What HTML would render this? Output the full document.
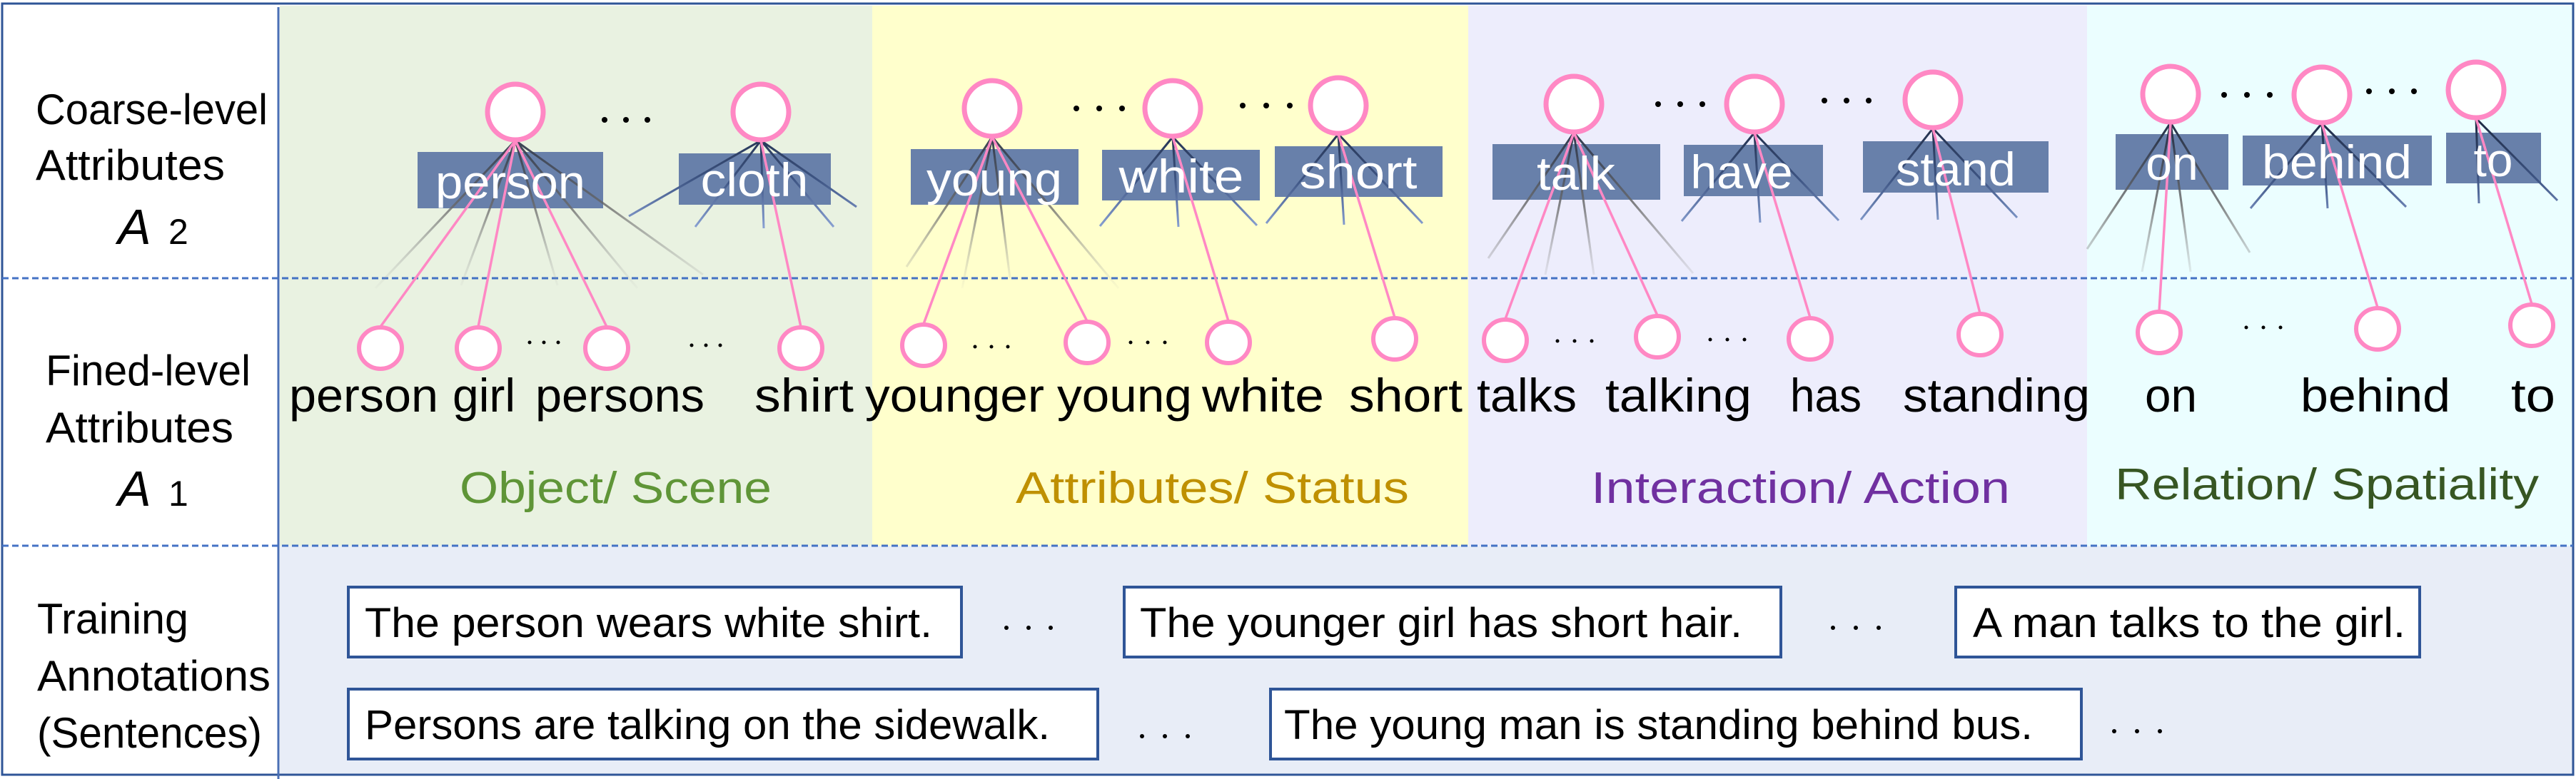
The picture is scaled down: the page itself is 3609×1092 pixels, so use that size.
<!DOCTYPE html>
<html><head><meta charset="utf-8"><style>
html,body{margin:0;padding:0;background:#fff;}
svg{display:block;}
text{font-family:"Liberation Sans",sans-serif;}
</style></head><body>
<svg width="3609" height="1092" viewBox="0 0 3609 1092" xmlns="http://www.w3.org/2000/svg">
<defs>
<linearGradient id="gf" gradientUnits="userSpaceOnUse" x1="0" y1="170" x2="0" y2="405">
<stop offset="0" stop-color="#1e2a44"/><stop offset="0.5" stop-color="#666" stop-opacity="0.8"/><stop offset="1" stop-color="#aaa" stop-opacity="0.05"/></linearGradient>
<linearGradient id="bf" gradientUnits="userSpaceOnUse" x1="0" y1="170" x2="0" y2="320">
<stop offset="0" stop-color="#1e2a44"/><stop offset="0.55" stop-color="#3e5584"/><stop offset="1" stop-color="#8aa2d4"/></linearGradient>
</defs>
<rect x="0" y="0" width="3609" height="1092" fill="#fff"/>
<rect x="392" y="8" width="830" height="757" fill="#e9f2e1"/>
<rect x="1222" y="8" width="835" height="757" fill="#ffffcc"/>
<rect x="2057" y="8" width="867" height="757" fill="#ededfc"/>
<rect x="2924" y="8" width="681" height="757" fill="#ebfeff"/>
<rect x="392" y="765" width="3213" height="320" fill="#e8edf7"/>
<rect x="3" y="5" width="3602" height="1081" fill="none" stroke="#2f5597" stroke-width="3"/>
<line x1="390" y1="10" x2="390" y2="1092" stroke="#4a6fb5" stroke-width="3"/>
<line x1="3" y1="390" x2="3605" y2="390" stroke="#4472c4" stroke-width="3" stroke-dasharray="9,5"/>
<line x1="3" y1="765" x2="3605" y2="765" stroke="#4472c4" stroke-width="3" stroke-dasharray="9,5"/>

<g font-size="60" fill="#000">
<text x="50" y="174" textLength="325" lengthAdjust="spacingAndGlyphs">Coarse-level</text>
<text x="50" y="252" textLength="265" lengthAdjust="spacingAndGlyphs">Attributes</text>
<text x="64" y="540" textLength="287" lengthAdjust="spacingAndGlyphs">Fined-level</text>
<text x="64" y="620" textLength="263" lengthAdjust="spacingAndGlyphs">Attributes</text>
<text x="52" y="888" textLength="212" lengthAdjust="spacingAndGlyphs">Training</text>
<text x="52" y="968" textLength="327" lengthAdjust="spacingAndGlyphs">Annotations</text>
<text x="52" y="1048" textLength="315" lengthAdjust="spacingAndGlyphs">(Sentences)</text>
</g>
<text x="165" y="342" font-family="Liberation Serif" font-style="italic" font-size="70">A</text>
<text x="236" y="342" font-size="50">2</text>
<text x="165" y="709" font-family="Liberation Serif" font-style="italic" font-size="70">A</text>
<text x="236" y="709" font-size="50">1</text>

<g fill="#6880aa">
<rect x="585" y="213" width="260" height="79"/>
<rect x="951" y="215" width="213" height="72"/>
<rect x="1276" y="209" width="235" height="78"/>
<rect x="1544" y="210" width="221" height="71"/>
<rect x="1786" y="205" width="235" height="71"/>
<rect x="2091" y="202" width="235" height="78"/>
<rect x="2359" y="203" width="195" height="72"/>
<rect x="2610" y="198" width="260" height="72"/>
<rect x="2964" y="188" width="158" height="78"/>
<rect x="3142" y="190" width="265" height="70"/>
<rect x="3427" y="186" width="133" height="71"/>
</g>

<g stroke="url(#gf)" stroke-width="3" fill="none">
<path d="M722 197L526 404M722 197L646 400M722 197L781 400M722 197L893 404M722 197L985 385"/>
<path d="M1390 192L1270 374M1390 192L1348 404M1390 192L1415 390M1390 192L1567 404"/>
<path d="M2205 186L2085 362M2205 186L2165 385M2205 186L2233 385M2205 186L2372 383"/>
<path d="M3041 172L2924 349M3041 172L3001 381M3041 172L3069 381M3041 172L3152 354"/>
</g>
<g stroke="url(#bf)" stroke-width="3" fill="none">
<path d="M1066 197L881 303M1066 197L974 318M1066 197L1070 320M1066 197L1168 318M1066 197L1200 290"/>
<path d="M1643 192L1541 317M1643 192L1651 318M1643 192L1761 316"/>
<path d="M1875 188L1774 313M1875 188L1883 315M1875 188L1993 313"/>
<path d="M2458 186L2356 310M2458 186L2466 312M2458 186L2576 309"/>
<path d="M2708 180L2607 308M2708 180L2715 308M2708 180L2826 305"/>
<path d="M3253 173L3153 292M3253 173L3261 292M3253 173L3371 290"/>
<path d="M3469 166L3473 285M3469 166L3583 281"/>
</g>
<g stroke="#ff88c4" stroke-width="3.5" fill="none">
<path d="M722 197L533 458M722 197L670 458M722 197L850 458M1066 197L1122 458"/>
<path d="M1390 192L1294 454M1390 192L1523 450M1643 192L1721 450M1875 188L1954 445"/>
<path d="M2205 186L2109 447M2205 186L2322 442M2458 186L2536 445M2708 180L2774 439"/>
<path d="M3041 172L3025 436M3253 173L3331 431M3469 166L3547 426"/>
</g>

<g font-size="66" fill="#fff" text-anchor="middle">
<text x="715" y="278" textLength="210" lengthAdjust="spacingAndGlyphs">person</text>
<text x="1057" y="275" textLength="151" lengthAdjust="spacingAndGlyphs">cloth</text>
<text x="1393" y="274" textLength="190" lengthAdjust="spacingAndGlyphs">young</text>
<text x="1655" y="270" textLength="175" lengthAdjust="spacingAndGlyphs">white</text>
<text x="1903" y="264" textLength="165" lengthAdjust="spacingAndGlyphs">short</text>
<text x="2208" y="266" textLength="110" lengthAdjust="spacingAndGlyphs">talk</text>
<text x="2440" y="264">have</text>
<text x="2740" y="260" textLength="168" lengthAdjust="spacingAndGlyphs">stand</text>
<text x="3043" y="252">on</text>
<text x="3274" y="250" textLength="210" lengthAdjust="spacingAndGlyphs">behind</text>
<text x="3493" y="247">to</text>
</g>

<g fill="#fff" stroke="#ff88c4" stroke-width="7">
<ellipse cx="722" cy="157" rx="39" ry="39"/>
<ellipse cx="1066" cy="157" rx="39" ry="39"/>
<ellipse cx="1390" cy="152" rx="39" ry="39"/>
<ellipse cx="1643" cy="152" rx="39" ry="39"/>
<ellipse cx="1875" cy="148" rx="39" ry="39"/>
<ellipse cx="2205" cy="146" rx="39" ry="39"/>
<ellipse cx="2458" cy="146" rx="39" ry="39"/>
<ellipse cx="2708" cy="140" rx="39" ry="39"/>
<ellipse cx="3041" cy="132" rx="39" ry="39"/>
<ellipse cx="3253" cy="133" rx="39" ry="39"/>
<ellipse cx="3469" cy="126" rx="39" ry="39"/>
</g>
<g fill="#fff" stroke="#ff88c4" stroke-width="6">
<ellipse cx="533" cy="488" rx="30" ry="29"/>
<ellipse cx="670" cy="488" rx="30" ry="29"/>
<ellipse cx="850" cy="488" rx="30" ry="29"/>
<ellipse cx="1122" cy="488" rx="30" ry="29"/>
<ellipse cx="1294" cy="484" rx="30" ry="29"/>
<ellipse cx="1523" cy="480" rx="30" ry="29"/>
<ellipse cx="1721" cy="480" rx="30" ry="29"/>
<ellipse cx="1954" cy="475" rx="30" ry="29"/>
<ellipse cx="2109" cy="477" rx="30" ry="29"/>
<ellipse cx="2322" cy="472" rx="30" ry="29"/>
<ellipse cx="2536" cy="475" rx="30" ry="29"/>
<ellipse cx="2774" cy="469" rx="30" ry="29"/>
<ellipse cx="3025" cy="466" rx="30" ry="29"/>
<ellipse cx="3331" cy="461" rx="30" ry="29"/>
<ellipse cx="3547" cy="456" rx="30" ry="29"/>
</g>

<g fill="#000">
<circle cx="847" cy="168" r="4"/><circle cx="877" cy="168" r="4"/><circle cx="907" cy="168" r="4"/>
<circle cx="1508" cy="152" r="4"/><circle cx="1540" cy="152" r="4"/><circle cx="1572" cy="152" r="4"/>
<circle cx="1741" cy="148" r="4"/><circle cx="1774" cy="148" r="4"/><circle cx="1807" cy="148" r="4"/>
<circle cx="2323" cy="146" r="4"/><circle cx="2354" cy="146" r="4"/><circle cx="2385" cy="146" r="4"/>
<circle cx="2556" cy="141" r="4"/><circle cx="2587" cy="141" r="4"/><circle cx="2618" cy="141" r="4"/>
<circle cx="3116" cy="133" r="4"/><circle cx="3148" cy="133" r="4"/><circle cx="3180" cy="133" r="4"/>
<circle cx="3319" cy="128" r="4"/><circle cx="3351" cy="128" r="4"/><circle cx="3382" cy="128" r="4"/>
</g>
<g fill="#000">
<circle cx="742" cy="480" r="2.5"/><circle cx="762" cy="480" r="2.5"/><circle cx="782" cy="480" r="2.5"/>
<circle cx="969" cy="484" r="2.5"/><circle cx="989" cy="484" r="2.5"/><circle cx="1009" cy="484" r="2.5"/>
<circle cx="1366" cy="486" r="2.5"/><circle cx="1389" cy="486" r="2.5"/><circle cx="1412" cy="486" r="2.5"/>
<circle cx="1584" cy="480" r="2.5"/><circle cx="1608" cy="480" r="2.5"/><circle cx="1632" cy="480" r="2.5"/>
<circle cx="2182" cy="478" r="2.5"/><circle cx="2206" cy="478" r="2.5"/><circle cx="2230" cy="478" r="2.5"/>
<circle cx="2396" cy="476" r="2.5"/><circle cx="2420" cy="476" r="2.5"/><circle cx="2444" cy="476" r="2.5"/>
<circle cx="3147" cy="459" r="2.5"/><circle cx="3171" cy="459" r="2.5"/><circle cx="3195" cy="459" r="2.5"/>
</g>

<g font-size="66" fill="#000">
<text x="405" y="577" textLength="209" lengthAdjust="spacingAndGlyphs">person</text>
<text x="634" y="577" textLength="88" lengthAdjust="spacingAndGlyphs">girl</text>
<text x="750" y="577" textLength="237" lengthAdjust="spacingAndGlyphs">persons</text>
<text x="1057" y="577" textLength="139" lengthAdjust="spacingAndGlyphs">shirt</text>
<text x="1212" y="577" textLength="251" lengthAdjust="spacingAndGlyphs">younger</text>
<text x="1481" y="577" textLength="189" lengthAdjust="spacingAndGlyphs">young</text>
<text x="1684" y="577" textLength="171" lengthAdjust="spacingAndGlyphs">white</text>
<text x="1890" y="577" textLength="159" lengthAdjust="spacingAndGlyphs">short</text>
<text x="2069" y="577" textLength="140" lengthAdjust="spacingAndGlyphs">talks</text>
<text x="2249" y="577" textLength="205" lengthAdjust="spacingAndGlyphs">talking</text>
<text x="2508" y="577" textLength="100" lengthAdjust="spacingAndGlyphs">has</text>
<text x="2666" y="577" textLength="262" lengthAdjust="spacingAndGlyphs">standing</text>
<text x="3005" y="577" textLength="73" lengthAdjust="spacingAndGlyphs">on</text>
<text x="3223" y="577" textLength="210" lengthAdjust="spacingAndGlyphs">behind</text>
<text x="3518" y="577" textLength="62" lengthAdjust="spacingAndGlyphs">to</text>
</g>

<g font-size="62">
<text x="644" y="705" fill="#5f9537" textLength="437" lengthAdjust="spacingAndGlyphs">Object/ Scene</text>
<text x="1423" y="705" fill="#bf9000" textLength="551" lengthAdjust="spacingAndGlyphs">Attributes/ Status</text>
<text x="2229" y="705" fill="#7030a0" textLength="587" lengthAdjust="spacingAndGlyphs">Interaction/ Action</text>
<text x="2963" y="700" fill="#375623" textLength="594" lengthAdjust="spacingAndGlyphs">Relation/ Spatiality</text>
</g>

<g fill="#fff" stroke="#2f5597" stroke-width="4">
<rect x="488" y="823" width="859" height="98"/>
<rect x="1575" y="823" width="920" height="98"/>
<rect x="2740" y="823" width="650" height="98"/>
<rect x="488" y="966" width="1050" height="98"/>
<rect x="1780" y="966" width="1136" height="98"/>
</g>
<g font-size="58" fill="#000">
<text x="511" y="893" textLength="795" lengthAdjust="spacingAndGlyphs">The person wears white shirt.</text>
<text x="1597" y="893" textLength="844" lengthAdjust="spacingAndGlyphs">The younger girl has  short hair.</text>
<text x="2764" y="893" textLength="606" lengthAdjust="spacingAndGlyphs">A man talks to the girl.</text>
<text x="511" y="1036" textLength="960" lengthAdjust="spacingAndGlyphs">Persons are talking on the sidewalk.</text>
<text x="1799" y="1036" textLength="1049" lengthAdjust="spacingAndGlyphs">The young man is standing behind bus.</text>
</g>
<g fill="#000">
<circle cx="1410" cy="880" r="3"/><circle cx="1441" cy="880" r="3"/><circle cx="1472" cy="880" r="3"/>
<circle cx="2568" cy="880" r="3"/><circle cx="2600" cy="880" r="3"/><circle cx="2632" cy="880" r="3"/>
<circle cx="1600" cy="1032" r="3"/><circle cx="1632" cy="1032" r="3"/><circle cx="1664" cy="1032" r="3"/>
<circle cx="2962" cy="1025" r="3"/><circle cx="2994" cy="1025" r="3"/><circle cx="3026" cy="1025" r="3"/>
</g>
</svg>
</body></html>
